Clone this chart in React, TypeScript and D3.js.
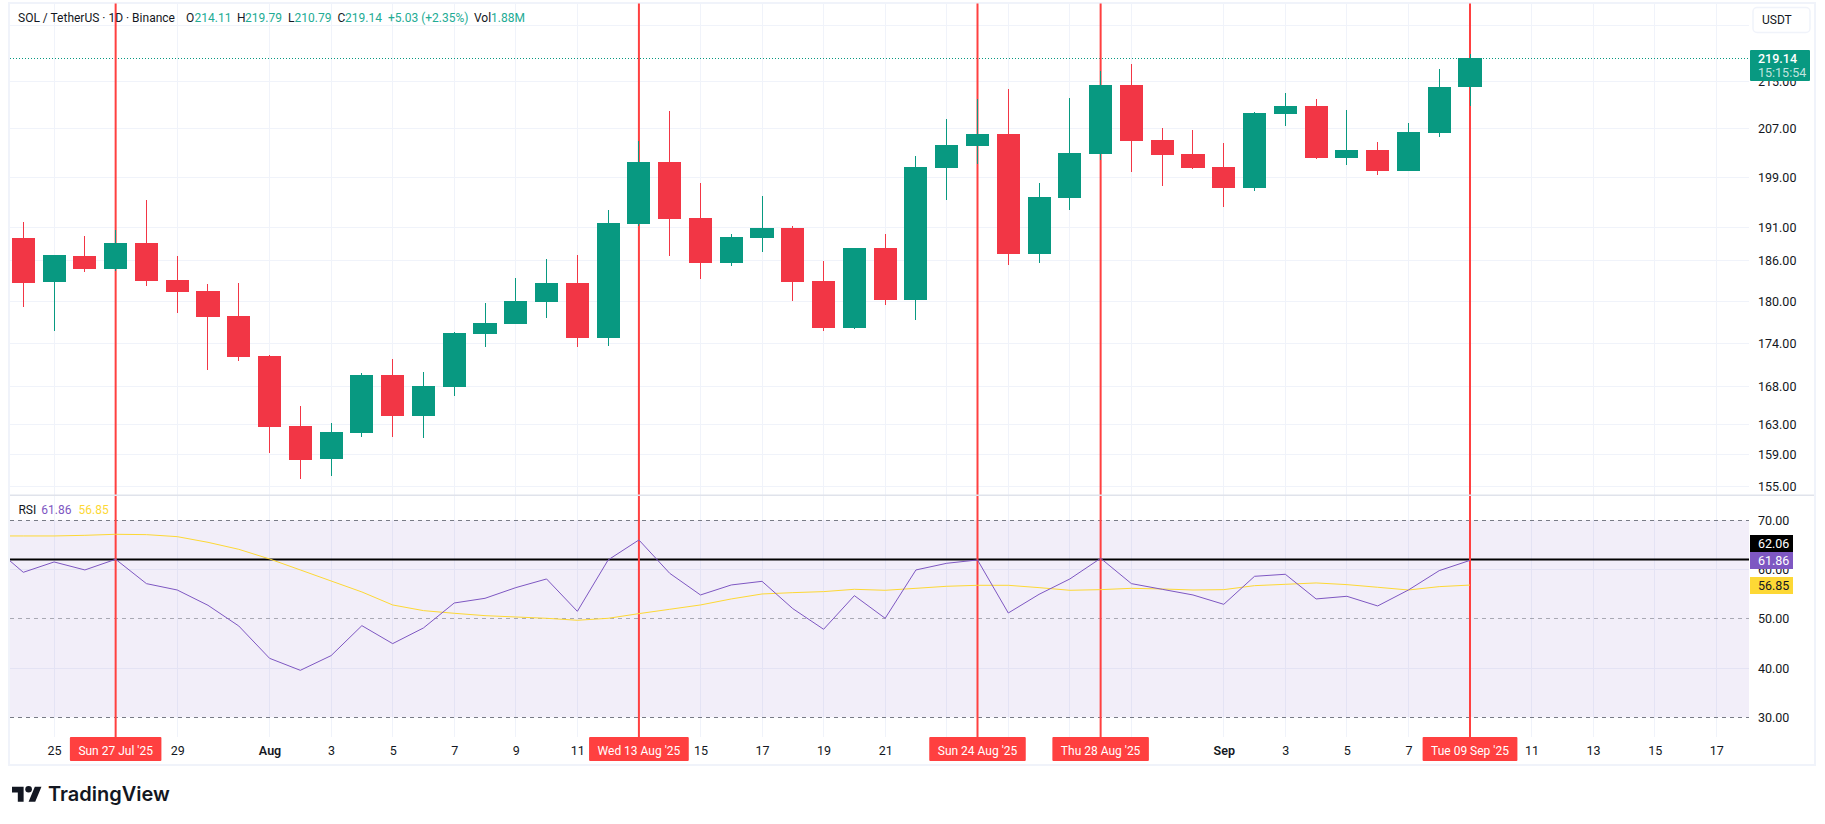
import { useEffect, useRef } from 'react';
import * as d3 from 'd3';

// daily candles, first one is 24 Jul 2025
const firstDay = new Date(Date.UTC(2025, 6, 24));
const opens = [189.46, 182.89, 186.73, 184.82, 188.7, 183.14, 181.52, 177.89, 172.23, 162.75, 158.46, 161.83, 169.6, 164.07, 167.96, 175.32, 176.74, 179.91, 182.69, 174.75, 191.62, 201.47, 192.55, 185.67, 189.46, 191.0, 182.99, 176.17, 187.94, 180.2, 200.5, 204.09, 206.08, 187.03, 195.69, 202.78, 214.41, 205.08, 202.78, 200.66, 197.28, 209.44, 210.8, 202.12, 203.43, 200.01, 206.25, 214.11];
const highs = [191.93, 186.88, 189.77, 190.69, 195.37, 186.73, 182.55, 182.69, 172.37, 165.4, 163.15, 169.87, 171.81, 170.01, 175.6, 179.76, 183.43, 186.27, 186.88, 193.8, 204.92, 209.95, 198.08, 190.08, 196.01, 191.31, 185.98, 187.94, 190.08, 202.45, 208.6, 212.0, 213.72, 198.08, 212.17, 216.85, 218.08, 207.08, 206.75, 204.59, 209.78, 213.03, 212.0, 210.12, 204.75, 207.92, 217.2, 219.79];
const lows = [179.23, 175.78, 184.37, 184.48, 182.3, 178.36, 170.29, 171.57, 159.28, 155.92, 156.3, 161.35, 161.35, 161.18, 166.74, 173.53, 176.74, 177.6, 173.48, 173.62, 191.31, 186.73, 183.29, 185.22, 187.33, 180.06, 175.74, 176.03, 179.48, 177.31, 195.37, 201.14, 185.37, 185.67, 193.8, 201.8, 199.85, 197.6, 200.33, 194.27, 196.8, 207.42, 201.96, 200.98, 199.36, 200.01, 205.58, 210.79];
const closes = [182.74, 186.88, 184.82, 188.7, 183.04, 181.41, 177.79, 172.13, 162.66, 158.34, 161.96, 169.6, 164.07, 168.1, 175.46, 176.88, 180.06, 182.69, 174.75, 191.78, 201.47, 192.4, 185.67, 189.62, 191.0, 182.84, 176.17, 187.94, 180.2, 200.66, 204.26, 206.08, 187.03, 195.85, 202.94, 214.41, 204.92, 202.61, 200.5, 197.28, 209.61, 210.8, 202.12, 203.43, 200.01, 206.41, 214.06, 219.14];

// RSI series start one day earlier (23 Jul), that point is clipped by the pane edge
const rsiDay0 = new Date(Date.UTC(2025, 6, 23));
const rsiValues = [64.79, 59.44, 61.54, 59.92, 62.08, 57.14, 55.85, 52.74, 48.54, 41.98, 39.54, 42.52, 48.61, 44.96, 48.14, 53.21, 54.16, 56.33, 58.09, 51.52, 61.95, 66.01, 59.24, 54.84, 56.87, 57.61, 52.06, 47.87, 54.7, 50.1, 59.92, 61.27, 61.95, 51.18, 54.97, 58.09, 62.28, 57.14, 55.99, 54.84, 52.94, 58.63, 59.04, 54.03, 54.57, 52.61, 55.85, 59.78, 61.86];
const rsiMaValues = [66.82, 66.82, 66.82, 66.95, 67.16, 67.09, 66.68, 65.53, 64.11, 62.15, 59.92, 57.68, 55.45, 52.81, 51.66, 51.12, 50.64, 50.37, 50.1, 49.7, 50.1, 51.05, 51.93, 52.81, 54.03, 55.04, 55.31, 55.52, 55.99, 55.79, 56.19, 56.6, 56.8, 56.8, 56.33, 55.79, 55.92, 56.19, 56.06, 55.85, 55.92, 56.73, 57.0, 57.28, 56.94, 56.4, 55.85, 56.53, 56.85];

const priceTicks = [215, 207, 199, 191, 186, 180, 174, 168, 163, 159, 155];
const rsiTicks = [70, 60, 50, 40, 30];
const rsiBands = [70, 50, 30];

// month, day, label. An empty label means the grid line is there but a date tag sits on the text
const timeTicks: [number, number, string][] = [
  [6, 25, '25'], [6, 27, ''], [6, 29, '29'], [7, 1, 'Aug'], [7, 3, '3'], [7, 5, '5'], [7, 7, '7'], [7, 9, '9'], [7, 11, '11'],
  [7, 13, ''], [7, 15, '15'], [7, 17, '17'], [7, 19, '19'], [7, 21, '21'], [7, 23, ''], [7, 25, ''], [7, 27, ''], [7, 29, ''],
  [8, 1, 'Sep'], [8, 3, '3'], [8, 5, '5'], [8, 7, '7'], [8, 9, ''], [8, 11, '11'], [8, 13, '13'], [8, 15, '15'], [8, 17, '17'],
];

const markerDays = [[6, 27], [7, 13], [7, 24], [7, 28], [8, 9]];
const markerLabels = ["Sun 27 Jul '25", "Wed 13 Aug '25", "Sun 24 Aug '25", "Thu 28 Aug '25", "Tue 09 Sep '25"];

const legendParts = [
  { x: 18, text: 'SOL / TetherUS · 1D · Binance', dark: true },
  { x: 186, text: 'O', dark: true }, { x: 194.5, text: '214.11', dark: false },
  { x: 237, text: 'H', dark: true }, { x: 245, text: '219.79', dark: false },
  { x: 288, text: 'L', dark: true }, { x: 294.5, text: '210.79', dark: false },
  { x: 337.5, text: 'C', dark: true }, { x: 345, text: '219.14', dark: false },
  { x: 388, text: '+5.03 (+2.35%)', dark: false },
  { x: 474, text: 'Vol', dark: true }, { x: 491, text: '1.88M', dark: false },
];

const UP = '#089981';
const DOWN = '#f23645';
const MARKER = '#ff4040';
const GRID = '#f0f3fa';
const TEXT = '#131722';
const FONT = 'Roboto, sans-serif';

export default function App() {
  const svgRef = useRef<SVGSVGElement>(null);

  useEffect(() => {
    if (!svgRef.current) return;
    const svg = d3.select(svgRef.current);
    svg.selectAll('*').remove();

    const left = 10;
    const right = 1749;
    const top = 3.5;
    const paneEnd = 495.3;
    const bottom = 737;

    const day = (m: number, d: number) => new Date(Date.UTC(2025, m, d));
    const x = d3.scaleUtc().domain([firstDay, day(8, 9)]).range([23.3, 1470]);
    const y = d3.scaleLog().domain([155, 225]).range([486.3, 25.3]);
    const yRsi = d3.scaleLinear().domain([30, 70]).range([717.3, 520.3]);

    const candleWidth = (x(day(6, 25)) - x(firstDay)) * 0.75;
    const candles = opens.map((o, i) => ({
      date: d3.utcDay.offset(firstDay, i),
      o,
      h: highs[i],
      l: lows[i],
      c: closes[i],
    }));

    svg.style('font-family', FONT);

    const defs = svg.append('defs');
    defs.append('clipPath').attr('id', 'plot').append('rect')
      .attr('x', left).attr('y', top).attr('width', right - left).attr('height', bottom - top);

    // frame
    svg.append('rect')
      .attr('x', 9).attr('y', 3).attr('width', 1806).attr('height', 762)
      .attr('fill', '#fff').attr('stroke', GRID).attr('stroke-width', 2);

    // grid
    const grid = svg.append('g').attr('stroke', GRID).attr('stroke-width', 1).attr('shape-rendering', 'crispEdges');
    grid.selectAll('line.v').data(timeTicks).enter().append('line')
      .attr('class', 'v')
      .attr('x1', (d) => x(day(d[0], d[1]))).attr('x2', (d) => x(day(d[0], d[1])))
      .attr('y1', top).attr('y2', bottom);
    grid.selectAll('line.p').data([225, ...priceTicks]).enter().append('line')
      .attr('class', 'p')
      .attr('x1', left).attr('x2', right)
      .attr('y1', (d) => y(d)).attr('y2', (d) => y(d));
    grid.selectAll('line.r').data([60, 40]).enter().append('line')
      .attr('class', 'r')
      .attr('x1', left).attr('x2', right)
      .attr('y1', (d) => yRsi(d)).attr('y2', (d) => yRsi(d));

    // rsi band
    svg.append('rect')
      .attr('x', left).attr('y', yRsi(70)).attr('width', right - left).attr('height', yRsi(30) - yRsi(70))
      .attr('fill', '#7e57c2').attr('fill-opacity', 0.1);
    svg.selectAll('line.band').data(rsiBands).enter().append('line')
      .attr('class', 'band')
      .attr('x1', left).attr('x2', right)
      .attr('y1', (d) => yRsi(d)).attr('y2', (d) => yRsi(d))
      .attr('stroke', '#787b86').attr('stroke-opacity', (d) => (d === 50 ? 0.6 : 1))
      .attr('stroke-dasharray', '4,4')
      .attr('shape-rendering', 'crispEdges');

    // last price line
    svg.append('line')
      .attr('x1', left).attr('x2', 1750)
      .attr('y1', y(219.14) + 0.5).attr('y2', y(219.14) + 0.5)
      .attr('stroke', UP).attr('stroke-dasharray', '1,2')
      .attr('shape-rendering', 'crispEdges');

    // black horizontal drawing in the rsi pane
    svg.append('line')
      .attr('x1', left).attr('x2', right)
      .attr('y1', yRsi(62.06)).attr('y2', yRsi(62.06))
      .attr('stroke', '#000').attr('stroke-width', 2);

    // vertical markers
    svg.selectAll('line.marker').data(markerDays).enter().append('line')
      .attr('class', 'marker')
      .attr('x1', (d) => x(day(d[0], d[1]))).attr('x2', (d) => x(day(d[0], d[1])))
      .attr('y1', top).attr('y2', bottom)
      .attr('stroke', MARKER).attr('stroke-width', 2);

    // pane separator
    svg.append('line')
      .attr('x1', left).attr('x2', 1814)
      .attr('y1', paneEnd).attr('y2', paneEnd)
      .attr('stroke', '#e0e3eb').attr('stroke-width', 1.5);

    // candles
    const plot = svg.append('g').attr('clip-path', 'url(#plot)');
    const candle = plot.selectAll('g.candle').data(candles).enter().append('g')
      .attr('class', 'candle')
      .attr('shape-rendering', 'crispEdges');
    candle.append('line')
      .attr('x1', (d) => x(d.date)).attr('x2', (d) => x(d.date))
      .attr('y1', (d) => y(d.h)).attr('y2', (d) => y(d.l))
      .attr('stroke', (d) => (d.c >= d.o ? UP : DOWN))
      .attr('stroke-width', 1);
    candle.append('rect')
      .attr('x', (d) => x(d.date) - candleWidth / 2)
      .attr('width', candleWidth)
      .attr('y', (d) => y(Math.max(d.o, d.c)))
      .attr('height', (d) => Math.max(1, Math.abs(y(d.o) - y(d.c))))
      .attr('fill', (d) => (d.c >= d.o ? UP : DOWN));

    // rsi lines
    const rsiLine = d3.line<number>()
      .x((_, i) => x(d3.utcDay.offset(rsiDay0, i)))
      .y((d) => yRsi(d));
    plot.append('path').datum(rsiMaValues)
      .attr('d', rsiLine).attr('fill', 'none').attr('stroke', '#fdd835').attr('stroke-width', 1);
    plot.append('path').datum(rsiValues)
      .attr('d', rsiLine).attr('fill', 'none').attr('stroke', '#7e57c2').attr('stroke-width', 1);

    // price axis
    const priceAxis = svg.append('g')
      .attr('transform', `translate(${right},0)`)
      .call(d3.axisRight(y).tickValues(priceTicks).tickSize(0).tickPadding(9).tickFormat((d) => d3.format('.2f')(d as number)));
    priceAxis.select('.domain').remove();
    priceAxis.selectAll('text').attr('font-size', 12.5).attr('font-family', FONT).attr('fill', TEXT);

    const rsiAxis = svg.append('g')
      .attr('transform', `translate(${right},0)`)
      .call(d3.axisRight(yRsi).tickValues(rsiTicks).tickSize(0).tickPadding(9).tickFormat((d) => d3.format('.2f')(d as number)));
    rsiAxis.select('.domain').remove();
    rsiAxis.selectAll('text').attr('font-size', 12.5).attr('font-family', FONT).attr('fill', TEXT);

    // time axis
    const labelled = timeTicks.filter((d) => d[2] !== '');
    const timeAxis = svg.append('g')
      .attr('transform', `translate(0,${bottom})`)
      .call(
        d3.axisBottom(x)
          .tickValues(labelled.map((d) => day(d[0], d[1])))
          .tickSize(0)
          .tickPadding(9)
          .tickFormat((_, i) => labelled[i][2])
      );
    timeAxis.select('.domain').remove();
    timeAxis.selectAll('text')
      .attr('font-size', 12.5)
      .attr('font-family', FONT)
      .attr('fill', TEXT)
      .attr('font-weight', (_, i) => (labelled[i][2].length === 3 ? 600 : 400));

    // date tags on the time axis
    markerDays.forEach((d, i) => {
      const cx = x(day(d[0], d[1]));
      const tag = svg.append('g');
      const bg = tag.append('rect').attr('y', bottom).attr('height', 24).attr('rx', 1).attr('fill', MARKER);
      const label = tag.append('text')
        .attr('x', cx).attr('y', bottom + 14).attr('dy', '0.32em')
        .attr('text-anchor', 'middle')
        .attr('font-size', 12)
        .attr('fill', '#fff')
        .text(markerLabels[i]);
      const w = (label.node() as SVGTextElement).getComputedTextLength() + 17;
      bg.attr('x', cx - w / 2).attr('width', w);
    });

    // legend
    const legend = svg.append('g').attr('font-size', 12);
    legendParts.forEach((p) => {
      legend.append('text')
        .attr('x', p.x).attr('y', 18).attr('dy', '0.32em')
        .attr('fill', p.dark ? TEXT : '#22ab94')
        .text(p.text);
    });
    const rsiLegend = svg.append('g').attr('font-size', 12);
    [
      { x: 18.4, text: 'RSI', fill: TEXT },
      { x: 41.3, text: rsiValues[rsiValues.length - 1].toFixed(2), fill: '#7e57c2' },
      { x: 78.5, text: rsiMaValues[rsiMaValues.length - 1].toFixed(2), fill: '#fdd835' },
    ].forEach((p) => {
      rsiLegend.append('text')
        .attr('x', p.x).attr('y', 510.5).attr('dy', '0.32em')
        .attr('fill', p.fill)
        .text(p.text);
    });

    // currency button
    svg.append('rect')
      .attr('x', 1753).attr('y', 7.5).attr('width', 57).attr('height', 25).attr('rx', 4)
      .attr('fill', '#fff').attr('stroke', GRID).attr('stroke-width', 1.5);
    svg.append('text')
      .attr('x', 1762).attr('y', 20.5).attr('dy', '0.32em')
      .attr('font-size', 12).attr('fill', TEXT)
      .text('USDT');

    // last price tag
    svg.append('rect')
      .attr('x', 1750).attr('y', 50).attr('width', 60).attr('height', 31).attr('rx', 1).attr('fill', UP);
    svg.append('text')
      .attr('x', 1758).attr('y', 58.5).attr('dy', '0.32em')
      .attr('font-size', 12.5).attr('font-weight', 500).attr('fill', '#fff')
      .text(closes[closes.length - 1].toFixed(2));
    svg.append('text')
      .attr('x', 1758).attr('y', 72.5).attr('dy', '0.32em')
      .attr('font-size', 12.5).attr('fill', '#fff').attr('fill-opacity', 0.75)
      .text('15:15:54');

    // rsi value tags
    [
      { y: 535, h: 17, fill: '#000', color: '#fff', text: '62.06' },
      { y: 552, h: 17, fill: '#7e57c2', color: '#fff', text: rsiValues[rsiValues.length - 1].toFixed(2) },
      { y: 577, h: 17, fill: '#fdd835', color: TEXT, text: rsiMaValues[rsiMaValues.length - 1].toFixed(2) },
    ].forEach((t) => {
      svg.append('rect').attr('x', 1750).attr('y', t.y).attr('width', 43).attr('height', t.h).attr('fill', t.fill);
      svg.append('text')
        .attr('x', 1758).attr('y', t.y + t.h / 2).attr('dy', '0.32em')
        .attr('font-size', 12.5).attr('fill', t.color)
        .text(t.text);
    });

    // logo
    const logo = svg.append('g').attr('transform', 'translate(12,783.4) scale(0.83)').attr('fill', '#131722');
    logo.append('path').attr('d', 'M14 22H7V11H0V4h14v18zM28 22h-8l7.5-18h8L28 22z');
    logo.append('circle').attr('cx', 20).attr('cy', 7).attr('r', 4);
    svg.append('text')
      .attr('x', 48).attr('y', 795).attr('dy', '0.32em')
      .attr('font-family', 'Inter, sans-serif')
      .attr('font-size', 20).attr('font-weight', 600).attr('fill', '#131722')
      .text('TradingView');
  }, []);

  return <svg ref={svgRef} width={1825} height={824} style={{ position: 'absolute', left: 0, top: 0, display: 'block' }} />;
}
